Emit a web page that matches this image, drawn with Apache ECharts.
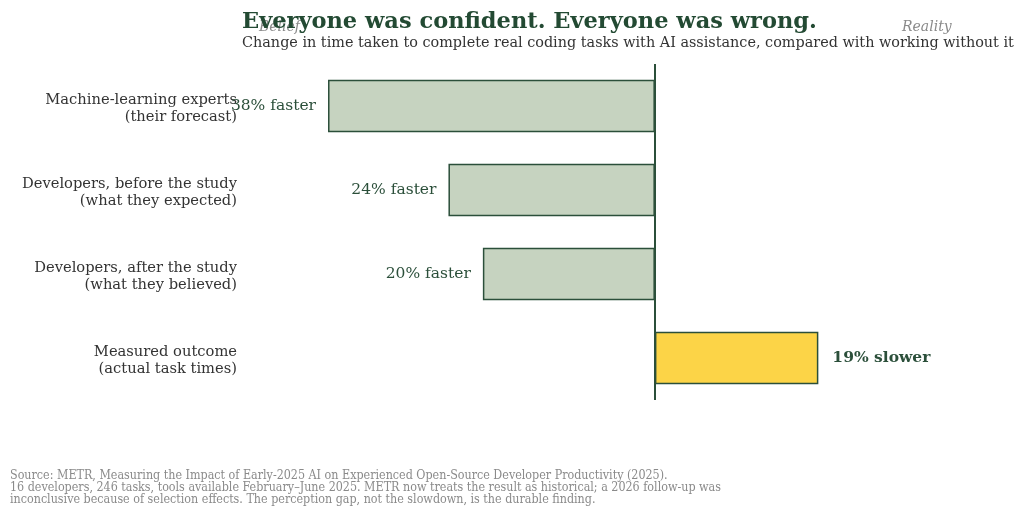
<!DOCTYPE html>
<html>
<head>
<meta charset="utf-8">
<script src="https://cdn.jsdelivr.net/npm/echarts@6/dist/echarts.min.js"></script>
<style>
  html, body { margin: 0; padding: 0; background: #fff; }
  #main { width: 1024px; height: 516px; }
</style>
</head>
<body>
<div id="main"></div>
<script>
var groups = [
    'Machine-learning experts\n(their forecast)',
    'Developers, before the study\n(what they expected)',
    'Developers, after the study\n(what they believed)',
    'Measured outcome\n(actual task times)'
];
// percent change in time taken (negative = faster)
var changes = [-38, -24, -20, 19];
var barLabels = ['38% faster', '24% faster', '20% faster', '19% slower'];

var serif = '"DejaVu Serif", serif';
var green = '#2b4f3a';

var myChart = echarts.init(document.getElementById('main'));

var option = {
    animation: false,
    title: {
        text: 'Everyone was confident. Everyone was wrong.',
        subtext: 'Change in time taken to complete real coding tasks with AI assistance, compared with working without it',
        left: 237,
        top: 6,
        itemGap: 2,
        textStyle: { fontFamily: serif, fontSize: 22.5, fontWeight: 'bold', color: '#234a33' },
        subtextStyle: { fontFamily: serif, fontSize: 14.4, color: '#333' }
    },
    grid: {
        left: 242,
        right: 25,
        top: 64,
        bottom: 116
    },
    xAxis: {
        type: 'value',
        min: -48,
        max: 40,
        show: false
    },
    yAxis: {
        type: 'category',
        inverse: true,
        data: groups,
        axisLine: { show: false },
        axisTick: { show: false },
        axisLabel: {
            margin: 5,
            align: 'right',
            // small spacer line on top nudges the two-line label down a little
            formatter: function (v) {
                return '{s| }\n' + v.split('\n').map(function (s) { return '{t|' + s + '}'; }).join('\n');
            },
            rich: {
                s: { fontSize: 1, lineHeight: 6 },
                t: { fontFamily: serif, fontSize: 14.7, lineHeight: 17, color: '#333', align: 'right' }
            }
        }
    },
    series: [{
        type: 'bar',
        barWidth: '62.5%',
        data: changes.map(function (v, i) {
            var slower = v > 0;
            return {
                value: v,
                itemStyle: {
                    color: slower ? '#fcd447' : '#c6d3c0',
                    borderColor: green,
                    borderWidth: 1.5
                },
                label: {
                    show: true,
                    position: slower ? 'right' : 'left',
                    distance: slower ? 14 : 12,
                    formatter: barLabels[i],
                    fontFamily: serif,
                    fontSize: 15.5,
                    fontWeight: slower ? 'bold' : 'normal',
                    color: green
                }
            };
        }),
        markLine: {
            silent: true,
            symbol: 'none',
            label: { show: false },
            lineStyle: { color: green, width: 2, type: 'solid' },
            data: [{ xAxis: 0 }]
        }
    }],
    graphic: [
        {
            type: 'text',
            left: 259,
            top: 20,
            style: { text: 'Belief', font: 'italic 14px "DejaVu Serif", serif', fill: '#8a8a8a' }
        },
        {
            type: 'text',
            left: 902,
            top: 20,
            style: { text: 'Reality', font: 'italic 14px "DejaVu Serif", serif', fill: '#8a8a8a' }
        },
        {
            type: 'text',
            left: 10,
            top: 470,
            style: {
                text: 'Source: METR, Measuring the Impact of Early-2025 AI on Experienced Open-Source Developer Productivity (2025).\n' +
                      '16 developers, 246 tasks, tools available February\u2013June 2025. METR now treats the result as historical; a 2026 follow-up was\n' +
                      'inconclusive because of selection effects. The perception gap, not the slowdown, is the durable finding.',
                font: '12.4px "DejaVu Serif Condensed", "DejaVu Serif", serif',
                lineHeight: 12,
                fill: '#8a8a8a'
            }
        }
    ]
};
myChart.setOption(option);
</script>
</body>
</html>
